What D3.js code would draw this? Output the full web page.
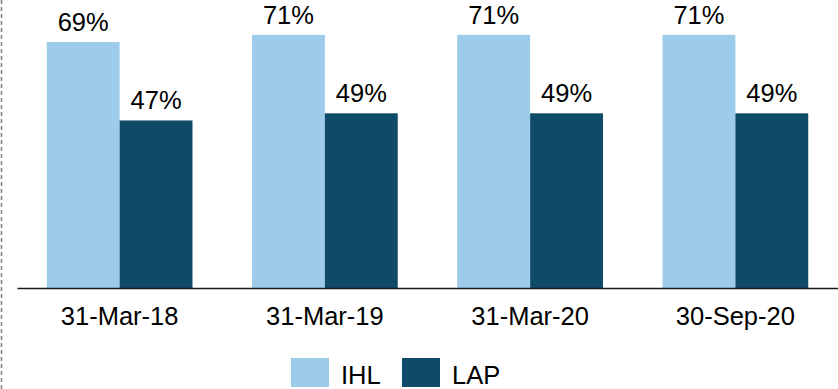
<!DOCTYPE html>
<html>
<head>
<meta charset="utf-8">
<script src="https://cdn.jsdelivr.net/npm/d3@7/dist/d3.min.js"></script>
<style>
  html, body { margin: 0; padding: 0; background: #fff; }
  svg { display: block; font-family: "Liberation Sans", Arial, sans-serif; }
</style>
</head>
<body>
<svg id="chart" width="838" height="389"></svg>
<script>
const categories = ["31-Mar-18", "31-Mar-19", "31-Mar-20", "30-Sep-20"];
const seriesNames = ["IHL", "LAP"];
const ihlValues = [69, 71, 71, 71];
const lapValues = [47, 49, 49, 49];
const colors = ["#9dcbea", "#0f4a68"];

const svg = d3.select("#chart");
const W = 838, H = 389;
const baseY = 288;

const x0 = d3.scaleBand().domain(categories).range([17, 838]).paddingInner(0.29).paddingOuter(0.145);
const x1 = d3.scaleBand().domain(seriesNames).range([0, x0.bandwidth()]);
const y = d3.scaleLinear().domain([0, 100]).range([baseY, baseY - 356.5]);
const color = d3.scaleOrdinal().domain(seriesNames).range(colors);

// left dashed border
svg.append("line")
  .attr("x1", 1.5).attr("x2", 1.5).attr("y1", 0).attr("y2", H)
  .attr("stroke", "#7f7f7f").attr("stroke-width", 1.5).attr("stroke-dasharray", "4,3");

const rows = categories.map((c, i) => ({ cat: c, vals: [ihlValues[i], lapValues[i]] }));

const groups = svg.selectAll("g.grp").data(rows).join("g")
  .attr("class", "grp")
  .attr("transform", d => `translate(${x0(d.cat)},0)`);

groups.selectAll("rect").data(d => d.vals.map((v, j) => ({ key: seriesNames[j], v })))
  .join("rect")
  .attr("x", d => x1(d.key))
  .attr("width", x1.bandwidth())
  .attr("y", d => y(d.v))
  .attr("height", d => baseY - y(d.v))
  .attr("fill", d => color(d.key));

groups.selectAll("text.val").data(d => d.vals.map((v, j) => ({ key: seriesNames[j], v })))
  .join("text")
  .attr("class", "val")
  .attr("x", d => x1(d.key) + x1.bandwidth() / 2)
  .attr("y", d => y(d.v) - 11)
  .attr("text-anchor", "middle")
  .attr("font-size", 25.5)
  .attr("fill", "#000")
  .text(d => d.v + "%");

// category axis
const xAxis = d3.axisBottom(x0).tickSize(0).tickPadding(0);
const ax = svg.append("g").attr("transform", `translate(0,${baseY})`).call(xAxis);
ax.select(".domain").attr("stroke", "#1a1a1a").attr("stroke-width", 1.5);
ax.selectAll("text")
  .attr("dy", null).attr("y", 37)
  .attr("font-size", 25.5).attr("fill", "#000")
  .attr("font-family", "'Liberation Sans', Arial, sans-serif");

// legend
const legend = svg.append("g");
const legendX = [291, 402];
seriesNames.forEach((s, i) => {
  legend.append("rect").attr("x", legendX[i]).attr("y", 358).attr("width", 38).attr("height", 29)
    .attr("fill", color(s));
  legend.append("text").attr("x", legendX[i] + 50).attr("y", 384)
    .attr("font-size", 25.5).attr("fill", "#000").text(s);
});
</script>
</body>
</html>
